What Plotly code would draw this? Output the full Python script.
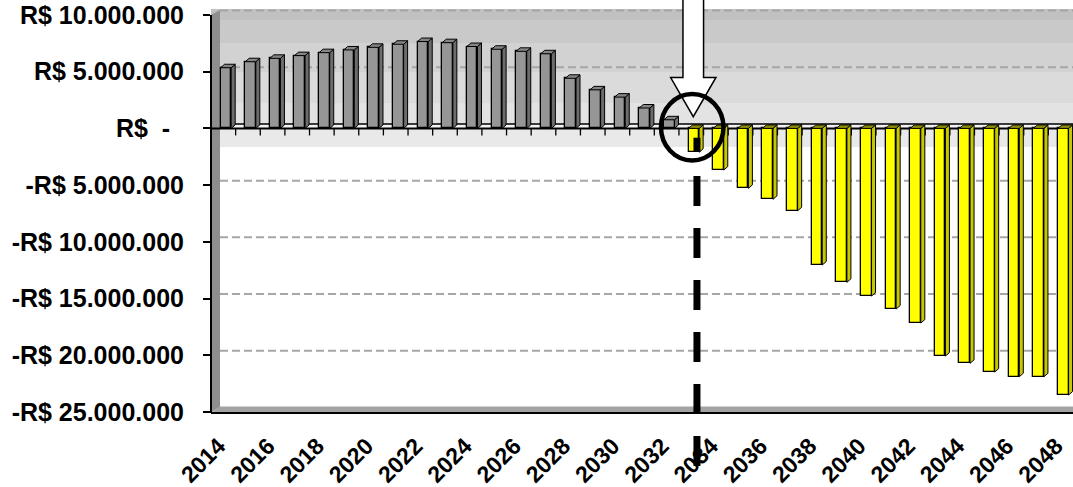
import plotly.graph_objects as go

# ---------------- data ----------------
years = list(range(2014, 2049))
surplus_years = list(range(2014, 2033))
surplus_values = [5350000, 5880000, 6180000, 6420000, 6680000, 6920000, 7150000,
                  7420000, 7660000, 7560000, 7220000, 6980000, 6800000, 6580000,
                  4420000, 3400000, 2760000, 1800000, 760000]
deficit_years = list(range(2033, 2049))
deficit_values = [-2100000, -3670000, -5280000, -6250000, -7260000, -12040000,
                  -13570000, -14780000, -15920000, -17160000, -20070000, -20710000,
                  -21480000, -21890000, -21890000, -23500000]
y_tick_values = [10000000, 5000000, 0, -5000000, -10000000, -15000000, -20000000, -25000000]
y_tick_labels = ["R$ 10.000.000", "R$ 5.000.000", "R$\u00a0\u00a0-\u00a0\u00a0",
                 "-R$ 5.000.000", "-R$ 10.000.000", "-R$ 15.000.000",
                 "-R$ 20.000.000", "-R$ 25.000.000"]
grid_values = [10000000, 5000000, -5000000, -10000000, -15000000, -20000000]
x_tick_values = list(range(2014, 2049, 2))
x_tick_labels = [str(v) + "\u00a0" for v in x_tick_values]
breakeven_year = deficit_years[0]

# ---------------- geometry ----------------
W, H = 1073, 487
ML, MR, MT, MB = 211, 0, 9, 75
PW, PH = W - ML - MR, H - MT - MB
X_RANGE = [years[0] - 0.5, years[-1] + 0.5]
Y_TOP = 10000000 + 6 * 35000000 / 397
Y_RANGE = [-25000000, Y_TOP]
PXU_X = PW / (X_RANGE[1] - X_RANGE[0])
PXU_Y = PH / (Y_RANGE[1] - Y_RANGE[0])
DX = 4.0 / PXU_X
DY = 3.5 / PXU_Y
WALL_DY = 4.5 / PXU_Y
BAR_W = 0.43
BAR_SHIFT = 0.105


def xp(px):
    return (px - ML) / PW


def yp(py):
    return (H - MB - py) / PH


FONT = "Liberation Sans, Arial, sans-serif"

fig = go.Figure()
fig.add_trace(go.Bar(x=surplus_years, y=surplus_values, width=BAR_W,
                     offset=BAR_SHIFT - BAR_W / 2,
                     marker=dict(color="#969696", line=dict(color="black", width=1.3)),
                     showlegend=False, hoverinfo="x+y"))
fig.add_trace(go.Bar(x=deficit_years, y=deficit_values, width=BAR_W,
                     offset=BAR_SHIFT - BAR_W / 2,
                     marker=dict(color="#ffff00", line=dict(color="black", width=1.3)),
                     showlegend=False, hoverinfo="x+y"))


def faces(xs, vs):
    tops, sides = [], []
    for x, v in zip(xs, vs):
        l = x + BAR_SHIFT - BAR_W / 2
        r = l + BAR_W
        t = max(v, 0)
        tops.append(f"M{l},{t} L{r},{t} L{r+DX},{t+DY} L{l+DX},{t+DY} Z")
        if v > 0:
            sides.append(f"M{r},{v} L{r+DX},{v+DY} L{r+DX},{DY} L{r},0 Z")
        else:
            sides.append(f"M{r},0 L{r+DX},{DY} L{r+DX},{v+DY} L{r},{v} Z")
    return " ".join(tops), " ".join(sides)


shapes = []
# back wall gradient bands
bands = [(9, 20, "#c1c1c1"), (20, 43, "#c9c9c9"), (43, 72, "#d2d2d2"),
         (72, 103, "#dbdbdb"), (103, 129, "#e3e3e3"), (129, 147, "#e9e9e9")]
for a, b, c in bands:
    shapes.append(dict(type="rect", xref="paper", yref="paper", x0=xp(211), x1=1,
                       y0=yp(b), y1=yp(a), fillcolor=c, line=dict(width=0), layer="below"))
# floor top surface
shapes.append(dict(type="rect", xref="paper", yref="y", x0=xp(211), x1=1, y0=0, y1=WALL_DY,
                   fillcolor="#f2f2f2", line=dict(width=0), layer="below"))
# gridlines on back wall
for g in grid_values:
    shapes.append(dict(type="line", xref="paper", yref="y", x0=xp(220), x1=1,
                       y0=g + WALL_DY, y1=g + WALL_DY,
                       line=dict(color="#a6a6a6", width=2, dash="8px,4px"), layer="below"))
# back floor line
shapes.append(dict(type="line", xref="paper", yref="y", x0=xp(220), x1=1,
                   y0=WALL_DY, y1=WALL_DY, line=dict(color="black", width=1.5), layer="below"))
# left side wall
shapes.append(dict(type="path", xref="paper", yref="paper",
                   path=f"M{xp(211)},{yp(15)} L{xp(220)},{yp(10)} L{xp(220)},{yp(407)} L{xp(211)},{yp(412)} Z",
                   fillcolor="#8e8e8e", line=dict(width=0), layer="below"))
# bottom floor strip
shapes.append(dict(type="path", xref="paper", yref="paper",
                   path=f"M{xp(211)},{yp(412)} L{xp(220)},{yp(406.5)} L1,{yp(406.5)} L1,{yp(412)} Z",
                   fillcolor="#a3a3a3", line=dict(width=0), layer="below"))
# front y axis line
shapes.append(dict(type="line", xref="paper", yref="paper", x0=xp(211), x1=xp(211),
                   y0=yp(15), y1=yp(413), line=dict(color="black", width=2), layer="below"))
# front zero (category axis) line
shapes.append(dict(type="line", xref="paper", yref="y", x0=xp(211), x1=1, y0=0, y1=0,
                   line=dict(color="black", width=2), layer="below"))
for yv in years[:-1]:
    shapes.append(dict(type="line", xref="x", yref="y", x0=yv + 0.5, x1=yv + 0.5,
                       ysizemode="pixel", yanchor=0, y0=0, y1=-7,
                       line=dict(color="black", width=1.3), layer="below"))

# 3D faces of bars
gt, gs = faces(surplus_years, surplus_values)
yt, ys = faces(deficit_years, deficit_values)
for path, col in [(gs, "#6c6c6c"), (gt, "#858585"), (ys, "#c8c800"), (yt, "#8c8c00")]:
    shapes.append(dict(type="path", xref="x", yref="y", path=path, fillcolor=col,
                       line=dict(color="black", width=1), layer="above"))

# callout: arrow, circle, dashed line at breakeven year
arrow = (f"M-8.3,{yp(-5)} L12.3,{yp(-5)} L12.3,{yp(77.5)} L24.7,{yp(77.5)} "
         f"L2,{yp(116.7)} L-20.6,{yp(77.5)} L-8.3,{yp(77.5)} Z")
shapes.append(dict(type="path", xref="x", yref="paper", xsizemode="pixel",
                   xanchor=breakeven_year, path=arrow, fillcolor="white",
                   line=dict(color="black", width=1.5), layer="above"))
shapes.append(dict(type="circle", xref="x", yref="paper", xsizemode="pixel",
                   xanchor=breakeven_year, x0=-30.3, x1=32.2, y0=yp(160.5), y1=yp(94),
                   line=dict(color="black", width=4.5), layer="above"))
shapes.append(dict(type="line", xref="x", yref="paper", xsizemode="pixel",
                   xanchor=breakeven_year, x0=5.7, x1=5.7, y0=yp(137.7), y1=yp(152),
                   line=dict(color="black", width=7), layer="above"))
shapes.append(dict(type="line", xref="x", yref="paper", xsizemode="pixel",
                   xanchor=breakeven_year, x0=5.7, x1=5.7, y0=yp(176), y1=yp(495),
                   line=dict(color="black", width=7, dash="30px,22px"), layer="above"))

fig.update_layout(
    width=W, height=H,
    margin=dict(l=ML, r=MR, t=MT, b=MB, pad=0, autoexpand=False),
    paper_bgcolor="white", plot_bgcolor="white",
    barmode="overlay", bargap=0,
    shapes=shapes,
    showlegend=False,
    xaxis=dict(range=X_RANGE, tickmode="array", tickvals=x_tick_values, ticktext=x_tick_labels,
               tickangle=-45, tickfont=dict(family=FONT, size=23, color="black", weight="bold"),
               ticklabelstandoff=5,
               showline=True, linecolor="black", linewidth=2, showgrid=False, zeroline=False,
               ticks="", automargin=False, fixedrange=True),
    yaxis=dict(range=Y_RANGE, tickmode="array", tickvals=y_tick_values, ticktext=y_tick_labels,
               ticks="outside", ticklen=7, tickwidth=1.5, tickcolor="black",
               tickfont=dict(family=FONT, size=25, color="black", weight="bold"),
               ticklabelstandoff=14, automargin=False,
               showline=False, showgrid=False, zeroline=False, fixedrange=True),
)

fig.write_html("out.html", config={"displayModeBar": False},
               post_script="document.body.style.margin='0';"
                           "document.documentElement.style.overflow='hidden';"
                           "document.body.style.overflow='hidden';")
